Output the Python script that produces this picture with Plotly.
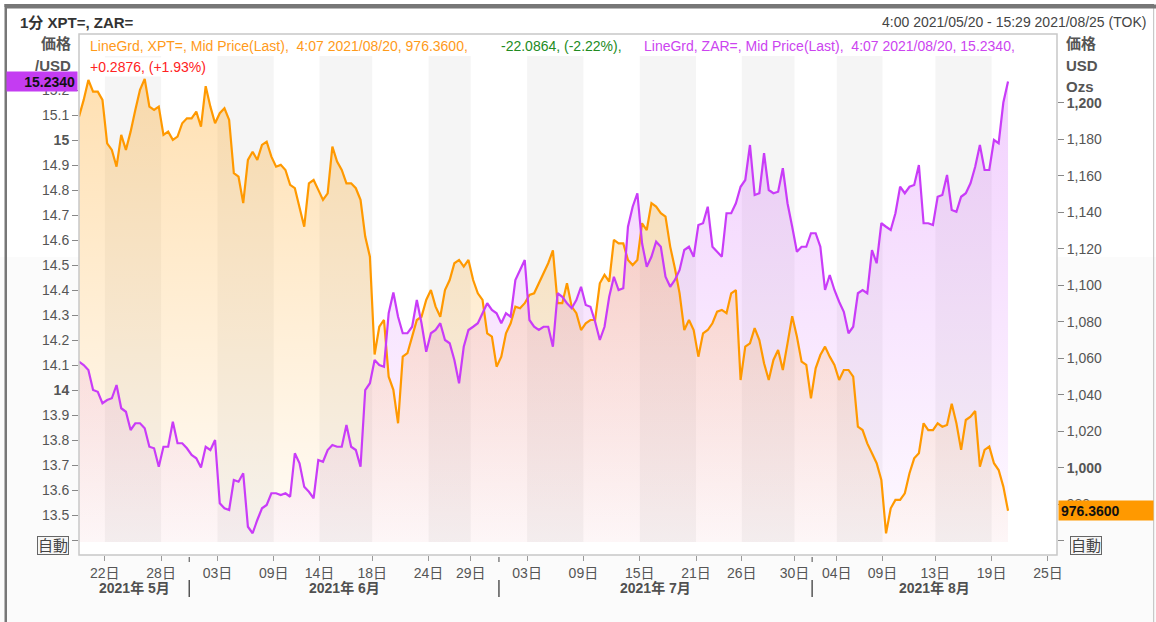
import pandas as pd
import plotly.graph_objects as go

# ---------------- data ----------------
# XPT= (platinum, USD/oz) – right axis, one value every 8 trading hours
xpt = [
    1192.3, 1201.5, 1212.4, 1206.0, 1206.0, 1201.5, 1177.7, 1174.1, 1164.9, 1182.3,
    1174.1, 1184.1, 1196.0, 1207.0, 1213.0, 1197.8, 1196.0, 1197.8, 1182.3, 1184.1,
    1179.6, 1181.4, 1188.7, 1191.4, 1191.4, 1195.1, 1186.8, 1209.0, 1197.8, 1188.7,
    1194.2, 1196.9, 1190.5, 1161.3, 1159.4, 1144.9, 1168.6, 1173.1, 1168.6, 1176.8,
    1178.6, 1170.4, 1164.9, 1165.9, 1163.1, 1154.9, 1153.1, 1143.0, 1132.0, 1155.8,
    1157.6, 1152.2, 1146.7, 1150.3, 1175.9, 1167.7, 1163.1, 1155.8, 1155.8, 1153.1,
    1146.7, 1126.6, 1115.6, 1062.0, 1077.2, 1080.9, 1049.8, 1042.6, 1024.3, 1060.8,
    1062.7, 1071.8, 1080.9, 1082.7, 1091.9, 1097.3, 1088.2, 1082.7, 1097.3, 1102.8,
    1112.0, 1113.8, 1110.1, 1113.8, 1102.8, 1095.5, 1091.9, 1073.6, 1071.8, 1055.3,
    1060.8, 1073.6, 1079.1, 1088.2, 1087.3, 1090.1, 1094.6, 1095.5, 1101.0, 1105.6,
    1112.0, 1119.0, 1090.1, 1090.1, 1101.0, 1088.2, 1084.6, 1075.4, 1079.1, 1080.9,
    1080.9, 1101.0, 1105.6, 1101.9, 1124.8, 1122.9, 1122.9, 1113.8, 1111.0, 1113.8,
    1133.9, 1130.2, 1144.9, 1143.0, 1139.4, 1137.5, 1121.1, 1109.2, 1095.5, 1075.4,
    1080.9, 1075.4, 1060.8, 1073.6, 1075.4, 1079.1, 1085.5, 1086.4, 1084.6, 1095.5,
    1097.3, 1048.0, 1066.3, 1068.1, 1076.4, 1069.9, 1057.2, 1048.0, 1059.0, 1064.5,
    1053.5, 1068.1, 1083.0, 1071.8, 1058.1, 1056.3, 1038.0, 1054.4, 1061.7, 1066.3,
    1060.8, 1056.3, 1048.0, 1053.5, 1053.5, 1049.8, 1022.4, 1020.6, 1013.3, 1007.9,
    1002.4, 993.2, 964.0, 977.7, 982.3, 982.3, 985.9, 996.9, 1005.1, 1007.9,
    1024.3, 1020.6, 1020.6, 1024.3, 1022.4, 1023.4, 1035.0, 1024.3, 1009.7, 1026.1,
    1027.9, 1031.0, 1000.5, 1009.7, 1011.5, 1002.4, 998.7, 989.6, 976.36,
]
# ZAR= (USD/ZAR) – left axis
zar = [
    14.113, 14.100, 14.080, 14.000, 13.993, 13.947, 13.960, 13.967, 14.020, 13.927,
    13.913, 13.840, 13.867, 13.867, 13.847, 13.773, 13.767, 13.693, 13.773, 13.773,
    13.873, 13.787, 13.787, 13.767, 13.740, 13.727, 13.690, 13.773, 13.760, 13.800,
    13.547, 13.527, 13.520, 13.640, 13.633, 13.667, 13.453, 13.427, 13.480, 13.527,
    13.540, 13.587, 13.587, 13.580, 13.587, 13.573, 13.747, 13.707, 13.613, 13.593,
    13.567, 13.720, 13.713, 13.760, 13.780, 13.773, 13.773, 13.860, 13.773, 13.760,
    13.693, 14.000, 14.027, 14.120, 14.100, 14.093, 14.307, 14.390, 14.293, 14.227,
    14.227, 14.253, 14.360, 14.267, 14.153, 14.227, 14.240, 14.267, 14.200, 14.187,
    14.120, 14.027, 14.173, 14.240, 14.253, 14.267, 14.307, 14.347, 14.320, 14.307,
    14.267, 14.307, 14.293, 14.440, 14.480, 14.520, 14.280, 14.253, 14.240, 14.253,
    14.253, 14.173, 14.387, 14.373, 14.347, 14.327, 14.360, 14.413, 14.340, 14.333,
    14.273, 14.200, 14.253, 14.373, 14.453, 14.400, 14.407, 14.653, 14.733, 14.787,
    14.587, 14.493, 14.533, 14.593, 14.573, 14.453, 14.413, 14.440, 14.480, 14.560,
    14.573, 14.533, 14.660, 14.667, 14.733, 14.573, 14.553, 14.533, 14.707, 14.707,
    14.747, 14.813, 14.840, 14.980, 14.780, 14.787, 14.947, 14.800, 14.787, 14.793,
    14.887, 14.747, 14.653, 14.553, 14.573, 14.573, 14.627, 14.627, 14.573, 14.400,
    14.460, 14.400, 14.353, 14.313, 14.227, 14.253, 14.387, 14.400, 14.387, 14.560,
    14.507, 14.667, 14.653, 14.640, 14.707, 14.813, 14.787, 14.813, 14.820, 14.900,
    14.667, 14.667, 14.660, 14.773, 14.780, 14.860, 14.720, 14.713, 14.773, 14.787,
    14.827, 14.893, 14.980, 14.880, 14.880, 15.000, 14.987, 15.150, 15.234,
]

tick_dates = ["2021-05-22", "2021-05-28", "2021-06-03", "2021-06-09", "2021-06-14",
              "2021-06-18", "2021-06-24", "2021-06-29", "2021-07-03", "2021-07-09",
              "2021-07-15", "2021-07-21", "2021-07-26", "2021-07-30", "2021-08-04",
              "2021-08-09", "2021-08-13", "2021-08-19", "2021-08-25"]
tick_labels = [d[-2:] + "日" for d in tick_dates]
month_starts = ["2021-06-01", "2021-07-01", "2021-08-01"]
month_labels = ["2021年 5月", "2021年 6月", "2021年 7月", "2021年 8月"]

zar_ticks = [round(13.4 + 0.1 * i, 1) for i in range(19)]          # 13.4 .. 15.2
xpt_ticks = [960 + 20 * i for i in range(13)]                       # 960 .. 1200

# ---------------- time axis (FX week: Mon 06:00 - Sat 06:00 Tokyo) ----------------
def in_break(t):
    h = t.hour + t.minute / 60
    wd = t.weekday()
    return (wd == 5 and h >= 6) or wd == 6 or (wd == 0 and h < 6)

grid = pd.date_range("2021-05-20 04:00", "2021-08-20 04:00", freq="8h")
times = [t for t in grid if not in_break(t)]
assert len(times) == len(xpt) == len(zar)

def visible(d):
    t = pd.Timestamp(d)
    while in_break(t):
        t += pd.Timedelta(hours=1)
    return t

weekend_starts = pd.date_range("2021-05-22 06:00", "2021-08-21 06:00", freq="7D")

# ---------------- geometry helpers ----------------
W, H = 1156, 622
L, R, T, B = 79, 99, 34, 67
PW, PH = W - L - R, H - T - B

def px(x):
    return (x - L) / PW

def py(y):
    return (H - B - y) / PH

FONT = "Liberation Sans, Noto Sans CJK JP, sans-serif"
ORANGE = "#ff9900"
PURPLE = "#c93cf8"

fig = go.Figure()

# purple fill (main y axis)
fig.add_trace(go.Scatter(
    x=times, y=zar, yaxis="y", mode="lines", line=dict(width=0, color=PURPLE),
    fill="tozeroy",
    fillgradient=dict(type="vertical", start=13.392, stop=15.424,
                      colorscale=[[0, "rgba(201,60,248,0.03)"], [1, "rgba(201,60,248,0.26)"]]),
    hoverinfo="skip", showlegend=False))
# orange fill + line (y2)
fig.add_trace(go.Scatter(
    x=times, y=xpt, yaxis="y2", mode="lines", line=dict(width=2.2, color=ORANGE),
    fill="tozeroy",
    fillgradient=dict(type="vertical", start=959.25, stop=1237.6,
                      colorscale=[[0, "rgba(255,153,0,0.03)"], [1, "rgba(255,153,0,0.33)"]]),
    showlegend=False))
# purple line on top (y3 mirrors y)
fig.add_trace(go.Scatter(
    x=times, y=zar, yaxis="y3", mode="lines", line=dict(width=2.2, color=PURPLE),
    showlegend=False))

shapes = []
# subtle background for lower half of the page, plot area kept white
shapes.append(dict(type="rect", xref="paper", yref="paper", x0=px(0), x1=px(W),
                   y0=py(H), y1=py(257), fillcolor="#fbfbfb", line=dict(width=0), layer="below"))
shapes.append(dict(type="rect", xref="paper", yref="paper", x0=0, x1=1,
                   y0=0, y1=1, fillcolor="white", line=dict(width=0), layer="below"))
# weekly alternating bands
for i in range(0, len(tick_dates) - 1, 2):
    shapes.append(dict(type="rect", xref="x", yref="paper",
                       x0=visible(tick_dates[i]), x1=visible(tick_dates[i + 1]),
                       y0=py(542), y1=py(56), fillcolor="rgba(0,0,0,0.038)",
                       line=dict(width=0), layer="below"))
# plot frame
shapes.append(dict(type="rect", xref="paper", yref="paper", x0=0, x1=1, y0=0, y1=1,
                   line=dict(color="#c8c8c8", width=1.5), layer="above"))
# outer border (dark on left/top, light on the right)
shapes.append(dict(type="rect", xref="paper", yref="paper", x0=px(4.5), x1=px(7),
                   y0=py(H + 5), y1=py(4), fillcolor="#777777", line=dict(width=0)))
shapes.append(dict(type="line", xref="paper", yref="paper", x0=px(4.5), x1=px(1154),
                   y0=py(5.5), y1=py(5.5), line=dict(color="#777777", width=3)))
shapes.append(dict(type="rect", xref="paper", yref="paper", x0=px(1153), x1=px(1154.2),
                   y0=py(H + 5), y1=py(5), fillcolor="#c8c8c8", line=dict(width=0)))
# month separators
for m in month_starts:
    v = visible(m)
    shapes.append(dict(type="line", xref="x", yref="paper", x0=v, x1=v,
                       y0=py(557), y1=py(562), line=dict(color="#666", width=1.2)))
    shapes.append(dict(type="line", xref="x", yref="paper", x0=v, x1=v,
                       y0=py(580), y1=py(597), line=dict(color="#555", width=1.5)))

ann = []
def text(x, y, s, size=14, color="#444", xa="left", ya="middle", **kw):
    ann.append(dict(xref="paper", yref="paper", x=px(x), y=py(y), text=s, showarrow=False,
                    xanchor=xa, yanchor=ya, font=dict(family=FONT, size=size, color=color), **kw))

# top border bar (also as a filled box in the annotation layer)
ann.append(dict(xref="paper", yref="paper", x=px(4.5), y=py(4), text=" ", showarrow=False,
                xanchor="left", yanchor="top", width=1149, height=1, borderpad=1,
                bgcolor="#777777", font=dict(size=1)))

text(18, 22, "<b>1分 XPT=, ZAR=</b>", size=15, color="#333")
text(1148, 22, "4:00 2021/05/20 - 15:29 2021/08/25 (TOK)", size=14, color="#444", xa="right")
text(73, 44, "<b>価格</b>", size=15, color="#555", xa="right")
text(73, 65, "<b>/USD</b>", size=15, color="#555", xa="right")
text(1064, 44, "<b>価格</b>", size=15, color="#555")
text(1064, 65, "<b>USD</b>", size=15, color="#555")
text(1064, 86, "<b>Ozs</b>", size=15, color="#555")

# legend-like header
text(88, 46, "LineGrd, XPT=, Mid Price(Last),  4:07 2021/08/20, 976.3600,", color="#ff9a1a")
text(499, 46, "-22.0864, (-2.22%),", color="#228b22")
text(642, 46, "LineGrd, ZAR=, Mid Price(Last),  4:07 2021/08/20, 15.2340,", color="#cc44f0")
text(88, 67, "+0.2876, (+1.93%)", color="#ff2222", bgcolor="white")

# last value boxes
ann.append(dict(xref="paper", yref="y", x=px(78), y=zar[-1], text="<b>15.2340</b>",
                showarrow=False, xanchor="right", yanchor="middle", bgcolor="#c43cf2",
                width=66, height=15, borderpad=2, align="right",
                font=dict(family=FONT, size=14, color="#111")))
ann.append(dict(xref="paper", yref="y2", x=px(1058), y=xpt[-1], text="<b>976.3600</b>",
                showarrow=False, xanchor="left", yanchor="middle", bgcolor=ORANGE,
                width=90, height=15, borderpad=2, align="left",
                font=dict(family=FONT, size=14, color="#111")))
# auto-scale buttons
for cx in (53, 1086):
    ann.append(dict(xref="paper", yref="paper", x=px(cx), y=py(545), text="自動",
                    showarrow=False, xanchor="center", yanchor="middle",
                    bordercolor="#666", borderwidth=1, borderpad=0, bgcolor="#f6f6f6",
                    font=dict(family=FONT, size=15, color="#444")))
# month labels
for cx, lab in zip((134, 344, 655, 934), month_labels):
    text(cx, 588, "<b>" + lab + "</b>", size=14, color="#505050", xa="center")

def zar_label(v):
    if v == 13.4:
        return ""
    if abs(v - round(v)) < 1e-9:
        return "<b>%d</b>" % round(v)
    return "%.1f" % v

def xpt_label(v):
    if v == 960:
        return ""
    s = "{:,}".format(v)
    return "<b>%s</b>" % s if v in (1000, 1200) else s

fig.update_layout(
    width=W, height=H,
    margin=dict(l=L, r=R, t=T, b=B, pad=0),
    paper_bgcolor="white", plot_bgcolor="rgba(0,0,0,0)",
    font=dict(family=FONT, size=14, color="#555"),
    showlegend=False,
    xaxis=dict(type="date", domain=[0, 1], anchor="free", position=0,
               range=["2021-05-20 04:00", "2021-08-25 15:29"],
               rangebreaks=[dict(values=list(weekend_starts), dvalue=48 * 3600 * 1000)],
               tickmode="array", tickvals=[visible(d) for d in tick_dates], ticktext=tick_labels,
               ticks="outside", ticklen=5, tickcolor="#999", tickwidth=1,
               tickfont=dict(size=14, color="#555"), showgrid=False, zeroline=False,
               showline=False),
    yaxis=dict(domain=[py(542), 1], range=[13.392, 15.424], anchor="x",
               tickmode="array", tickvals=zar_ticks, ticktext=[zar_label(v) for v in zar_ticks],
               ticks="outside", ticklen=6, tickcolor="#888", tickfont=dict(size=14, color="#555"),
               showgrid=False, zeroline=False, showline=False),
    yaxis2=dict(domain=[py(542), 1], range=[959.25, 1237.6], overlaying="y", side="right",
                anchor="x", tickmode="array", tickvals=xpt_ticks,
                ticktext=[xpt_label(v) for v in xpt_ticks],
                ticks="outside", ticklen=6, tickcolor="#888", tickfont=dict(size=14, color="#555"),
                showgrid=False, zeroline=False, showline=False),
    yaxis3=dict(domain=[py(542), 1], range=[13.392, 15.424], overlaying="y", anchor="x",
                visible=False),
    shapes=shapes, annotations=ann,
    hovermode=False,
)

fig.write_html("out.html", config={"displayModeBar": False, "staticPlot": True},
               post_script="document.body.style.margin='0';document.body.style.overflow='hidden';")
